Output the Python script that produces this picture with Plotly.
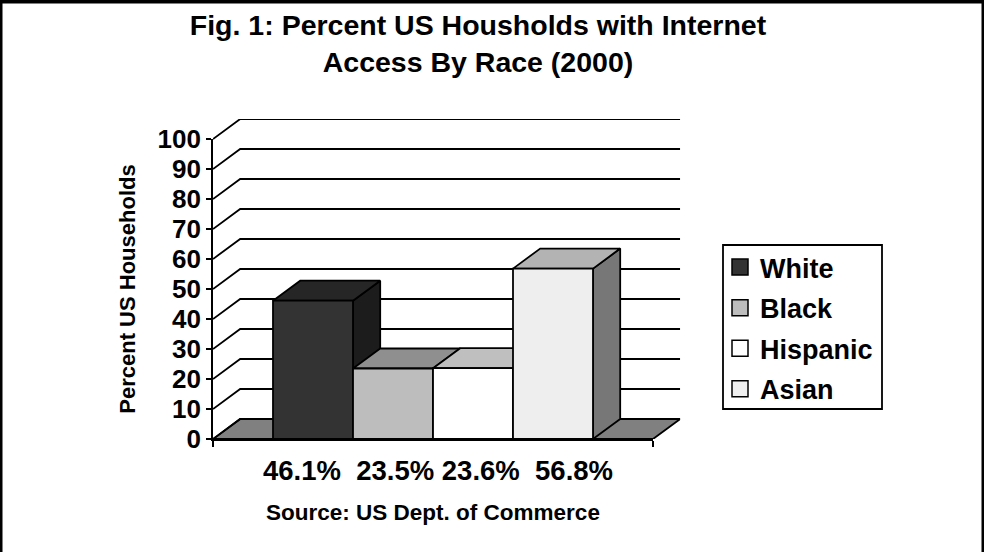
import plotly.graph_objects as go

# Survey results, percent of households per group
categories = ["White", "Black", "Hispanic", "Asian"]
values = [46.1, 23.5, 23.6, 56.8]
front_colors = ["#333333", "#bdbdbd", "#ffffff", "#eeeeee"]
top_colors = ["#262626", "#8f8f8f", "#bfbfbf", "#b3b3b3"]
side_colors = ["#1c1c1c", "#5f5f5f", "#808080", "#777777"]
y_ticks = list(range(0, 101, 10))

# Oblique projection: how far the back wall is shifted, in data units
DEPTH_X = 0.34
DEPTH_Y = 6.67
X_MIN, X_MAX = -1.25, 4.25
Y_MAX = 100
FONT = "Liberation Sans"
LINE = dict(color="black", width=1.8)

# Pixel frame of the front plane; the drawing axes reach further by the depth
LEFT, RIGHT, BOTTOM, TOP = 213, 653, 439, 139
PX_PER_X = (RIGHT - LEFT) / (X_MAX - X_MIN)
PX_PER_Y = (BOTTOM - TOP) / Y_MAX
W, H = 984, 552

fig = go.Figure()


def add_face(xs, ys, fill, name):
    fig.add_trace(go.Scatter(
        x=xs, y=ys, xaxis="x2", yaxis="y2", mode="lines", fill="toself",
        fillcolor=fill, line=LINE, showlegend=False, hoverinfo="skip", name=name,
    ))


# Floor of the box
add_face(
    [X_MIN, X_MIN + DEPTH_X, X_MAX + DEPTH_X, X_MAX, X_MIN],
    [0, DEPTH_Y, DEPTH_Y, 0, 0],
    "#808080", "floor",
)

# Gridlines run up the left wall, then along the back wall
grid_x, grid_y = [], []
for v in y_ticks:
    grid_x += [X_MIN, X_MIN + DEPTH_X, X_MAX + DEPTH_X, None]
    grid_y += [v, v + DEPTH_Y, v + DEPTH_Y, None]
fig.add_trace(go.Scatter(
    x=grid_x, y=grid_y, xaxis="x2", yaxis="y2", mode="lines", line=LINE,
    showlegend=False, hoverinfo="skip", name="grid",
))

# Boxes, painted left to right so each one covers its neighbour's side face
for i, (cat, v) in enumerate(zip(categories, values)):
    x0, x1 = i - 0.5, i + 0.5
    add_face([x1, x1 + DEPTH_X, x1 + DEPTH_X, x1, x1],
             [0, DEPTH_Y, v + DEPTH_Y, v, 0], side_colors[i], cat + " side")
    add_face([x0, x0 + DEPTH_X, x1 + DEPTH_X, x1, x0],
             [v, v + DEPTH_Y, v + DEPTH_Y, v, v], top_colors[i], cat + " top")
    add_face([x0, x1, x1, x0, x0], [0, 0, v, v, 0], front_colors[i], cat)

# Legend entries, one group each so the row gap can be set
for i, cat in enumerate(categories):
    fig.add_trace(go.Scatter(
        x=[None], y=[None], mode="markers", name=cat, legendgroup=cat,
        marker=dict(symbol="square", size=16, color=front_colors[i],
                    line=dict(color="black", width=1.5)),
    ))

# Single category label listing all four percentages, set slightly right of centre
a, b, c, d = (f"{v:.1f}%" for v in values)
value_label = f"{a}  {b} {c}  {d}"
label_x = (X_MIN + X_MAX) / 2 + 5 / PX_PER_X

fig.update_layout(
    width=W, height=H,
    margin=dict(l=0, r=0, t=0, b=0),
    paper_bgcolor="white", plot_bgcolor="rgba(0,0,0,0)",
    font=dict(family=FONT, color="black", weight=700),
    title=dict(
        text="Fig. 1: Percent US Housholds with Internet<br>Access By Race (2000)",
        x=478 / W, xanchor="center", y=1 - 35 / H, yanchor="top", automargin=False,
        font=dict(family=FONT, size=28.5, color="black", weight=700),
    ),
    xaxis=dict(
        domain=[LEFT / W, RIGHT / W], range=[X_MIN, X_MAX], automargin=False,
        showgrid=False, zeroline=False, showline=True,
        linecolor="black", linewidth=1.8,
        tickmode="array", tickvals=[label_x], ticktext=[value_label],
        ticks="", tickfont=dict(size=27.5), ticklabelstandoff=6,
        minor=dict(tickmode="array", tickvals=[X_MIN, X_MAX], ticks="outside",
                   ticklen=6, tickwidth=1.5, tickcolor="black", showgrid=False),
        title=dict(text="Source: US Dept. of Commerce", font=dict(size=22.5), standoff=19),
    ),
    yaxis=dict(
        domain=[(H - BOTTOM) / H, (H - TOP) / H], range=[0, Y_MAX], automargin=False,
        showgrid=False, zeroline=False, showline=True,
        linecolor="black", linewidth=1.8,
        tickmode="array", tickvals=y_ticks, ticks="outside", ticklen=5,
        tickwidth=1.5, tickcolor="black", tickfont=dict(size=26),
        title=dict(text="Percent US Households", font=dict(size=22), standoff=16),
    ),
    # Hidden axes with the same scale, extended to hold the receding faces
    xaxis2=dict(
        visible=False, anchor="y2", automargin=False,
        domain=[LEFT / W, (RIGHT + DEPTH_X * PX_PER_X) / W],
        range=[X_MIN, X_MAX + DEPTH_X],
    ),
    yaxis2=dict(
        visible=False, anchor="x2", automargin=False,
        domain=[(H - BOTTOM) / H, (H - TOP + DEPTH_Y * PX_PER_Y) / H],
        range=[0, Y_MAX + DEPTH_Y],
    ),
    legend=dict(
        x=720 / W, xanchor="left", y=1 - 243 / H, yanchor="top",
        bgcolor="rgba(0,0,0,0)", borderwidth=0,
        font=dict(size=27, family=FONT, color="black", weight=700),
        tracegroupgap=2.5,
    ),
    shapes=[
        # Legend box
        dict(type="rect", xref="paper", yref="paper",
             x0=723 / W, x1=882 / W, y0=1 - 409 / H, y1=1 - 245 / H,
             line=dict(color="black", width=1.8)),
        # Outer frame, open at the bottom
        dict(type="line", xref="paper", yref="paper", x0=0, x1=1, y0=1, y1=1,
             line=dict(color="black", width=7)),
        dict(type="line", xref="paper", yref="paper", x0=0, x1=0, y0=0, y1=1,
             line=dict(color="black", width=5)),
        dict(type="line", xref="paper", yref="paper", x0=1, x1=1, y0=0, y1=1,
             line=dict(color="black", width=5)),
    ],
)

fig.write_html("out.html")
